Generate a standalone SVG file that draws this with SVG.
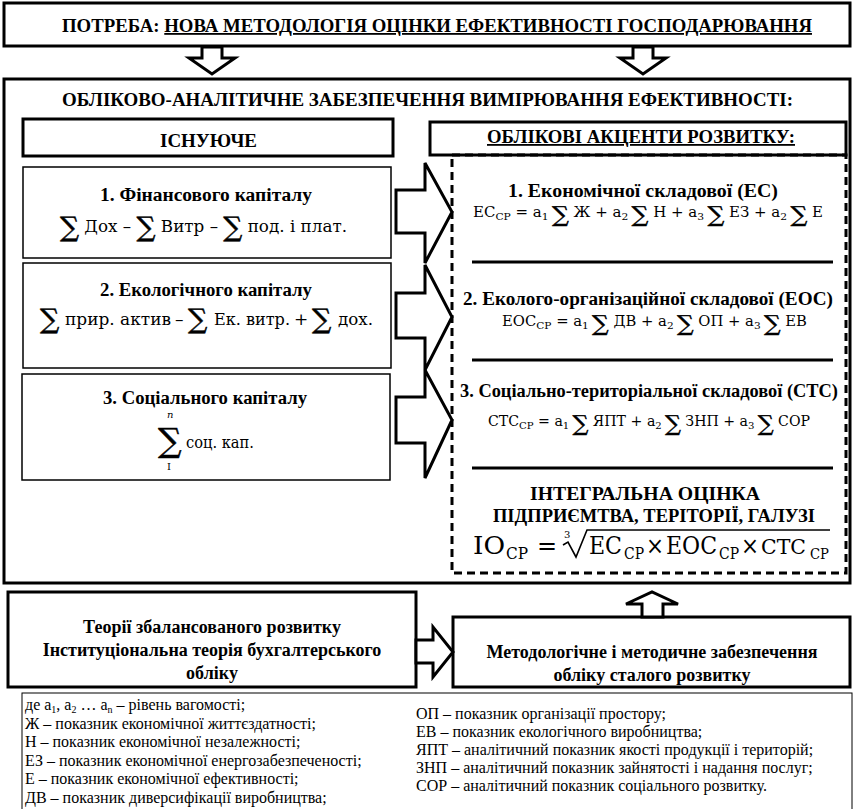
<svg xmlns="http://www.w3.org/2000/svg" width="854" height="809" viewBox="0 0 854 809">
<style>
.bx{fill:#fff;stroke:#000;stroke-width:3}
.bt{fill:#fff;stroke:#000;stroke-width:1.5}
.ds{fill:none;stroke:#000;stroke-width:3;stroke-dasharray:8 5}
.sep{stroke:#000;stroke-width:3}
.ar{fill:#fff;stroke:#000;stroke-width:3;stroke-linejoin:miter}
.h{font-family:"Liberation Serif","Times New Roman",serif;font-weight:bold;font-size:18px;fill:#000}
.c{text-anchor:middle}
.f{font-family:"DejaVu Serif",serif;font-size:17px;fill:#000}
.fr{font-family:"DejaVu Serif",serif;font-size:14px;fill:#000}
.fb{font-family:"DejaVu Serif",serif;font-size:24px;fill:#000}
.fs{font-family:"DejaVu Serif",serif;font-size:16px;fill:#000}
.sg{font-family:"DejaVu Serif","DejaVu Sans",serif;stroke:#000;stroke-width:0.5}
.sgl{font-family:"DejaVu Serif","DejaVu Sans",serif;font-size:27px;fill:#000;stroke:#000;stroke-width:0.5}
.sb{font-size:10px}
.l{font-family:"Liberation Serif","Times New Roman",serif;font-size:16px;fill:#000}
</style>
<rect width="854" height="809" fill="#fff"/>

<g id="need">
<rect class="bx" x="4" y="3" width="846" height="43"/>
<text class="h" x="62" y="32" textLength="750" lengthAdjust="spacingAndGlyphs">ПОТРЕБА: <tspan text-decoration="underline">НОВА МЕТОДОЛОГІЯ ОЦІНКИ ЕФЕКТИВНОСТІ ГОСПОДАРЮВАННЯ</tspan></text>
</g>

<g id="main">
<rect class="bx" x="4" y="79" width="846" height="504"/>
<text class="h" x="62" y="106" textLength="731" lengthAdjust="spacingAndGlyphs">ОБЛІКОВО-АНАЛІТИЧНЕ ЗАБЕЗПЕЧЕННЯ ВИМІРЮВАННЯ ЕФЕКТИВНОСТІ:</text>
</g>

<g id="existing">
<rect class="bx" x="23" y="119" width="370" height="37"/>
<text class="h" x="160" y="147" textLength="97" lengthAdjust="spacingAndGlyphs">ІСНУЮЧЕ</text>
</g>

<g id="fin">
<rect class="bt" x="23" y="167" width="368" height="91"/>
<text class="h" x="100" y="201" textLength="212" lengthAdjust="spacingAndGlyphs">1. Фінансового капіталу</text>
<text class="f" x="60" y="232" textLength="287" lengthAdjust="spacingAndGlyphs"><tspan class="sg" font-size="27" dy="4">∑</tspan><tspan dy="-4"> Дох – </tspan><tspan class="sg" font-size="27" dy="4">∑</tspan><tspan dy="-4"> Витр – </tspan><tspan class="sg" font-size="27" dy="4">∑</tspan><tspan dy="-4"> под. і плат.</tspan></text>
</g>

<g id="eco">
<rect class="bt" x="23" y="263" width="368" height="105"/>
<text class="h" x="100" y="296" textLength="212" lengthAdjust="spacingAndGlyphs">2. Екологічного капіталу</text>
<text class="sgl" x="40" y="328">∑</text>
<text class="f" x="65" y="325" textLength="106" lengthAdjust="spacingAndGlyphs">прир. актив</text>
<text class="f" x="175" y="325">–</text>
<text class="sgl" x="188" y="328">∑</text>
<text class="f" x="214" y="325" textLength="76" lengthAdjust="spacingAndGlyphs">Ек. витр.</text>
<text class="f" x="294" y="325">+</text>
<text class="sgl" x="312" y="328">∑</text>
<text class="f" x="338" y="325" textLength="35" lengthAdjust="spacingAndGlyphs">дох.</text>
</g>

<g id="soc">
<rect class="bt" x="22" y="374" width="368" height="106"/>
<text class="h" x="103" y="404" textLength="204" lengthAdjust="spacingAndGlyphs">3. Соціального капіталу</text>
<text class="f" x="167" y="418" style="font-size:10px;font-style:italic">n</text>
<text class="sg" x="158" y="452" style="font-size:33px">∑</text>
<text class="f" x="167" y="470" style="font-size:10px">I</text>
<text class="f" x="186" y="448" textLength="68" lengthAdjust="spacingAndGlyphs">соц. кап.</text>
</g>

<g id="accents">
<rect class="bx" x="430" y="122" width="416" height="33"/>
<text class="h" x="487" y="143" textLength="308" lengthAdjust="spacingAndGlyphs" text-decoration="underline">ОБЛІКОВІ АКЦЕНТИ РОЗВИТКУ:</text>
</g>

<g id="dev">
<rect class="ds" x="452" y="155" width="394" height="418"/>
<text class="h" x="508" y="197" textLength="270" lengthAdjust="spacingAndGlyphs">1. Економічної складової (ЕС)</text>
<text class="fr" x="473" y="217" textLength="350" lengthAdjust="spacingAndGlyphs">ЕС<tspan class="sb" dy="3">СР</tspan><tspan dy="-3"> = а</tspan><tspan class="sb" dy="3">1 </tspan><tspan class="sg" font-size="22" dy="2">∑</tspan><tspan dy="-5"> Ж + а</tspan><tspan class="sb" dy="3">2 </tspan><tspan class="sg" font-size="22" dy="2">∑</tspan><tspan dy="-5"> Н + а</tspan><tspan class="sb" dy="3">3 </tspan><tspan class="sg" font-size="22" dy="2">∑</tspan><tspan dy="-5"> ЕЗ + а</tspan><tspan class="sb" dy="3">2 </tspan><tspan class="sg" font-size="22" dy="2">∑</tspan><tspan dy="-5"> Е</tspan></text>
<line class="sep" x1="472" y1="262" x2="833" y2="262"/>
<text class="h" x="463" y="305" textLength="370" lengthAdjust="spacingAndGlyphs">2. Еколого-організаційної складової (ЕОС)</text>
<text class="fr" x="502" y="326" textLength="305" lengthAdjust="spacingAndGlyphs">ЕОС<tspan class="sb" dy="3">СР</tspan><tspan dy="-3"> = а</tspan><tspan class="sb" dy="3">1 </tspan><tspan class="sg" font-size="22" dy="2">∑</tspan><tspan dy="-5"> ДВ + а</tspan><tspan class="sb" dy="3">2 </tspan><tspan class="sg" font-size="22" dy="2">∑</tspan><tspan dy="-5"> ОП + а</tspan><tspan class="sb" dy="3">3 </tspan><tspan class="sg" font-size="22" dy="2">∑</tspan><tspan dy="-5"> ЕВ</tspan></text>
<line class="sep" x1="472" y1="360" x2="833" y2="360"/>
<text class="h" x="460" y="397" textLength="378" lengthAdjust="spacingAndGlyphs">3. Соціально-територіальної складової (СТС)</text>
<text class="fr" x="488" y="426" textLength="322" lengthAdjust="spacingAndGlyphs">СТС<tspan class="sb" dy="3">СР</tspan><tspan dy="-3"> = а</tspan><tspan class="sb" dy="3">1 </tspan><tspan class="sg" font-size="22" dy="2">∑</tspan><tspan dy="-5"> ЯПТ + а</tspan><tspan class="sb" dy="3">2 </tspan><tspan class="sg" font-size="22" dy="2">∑</tspan><tspan dy="-5"> ЗНП + а</tspan><tspan class="sb" dy="3">3 </tspan><tspan class="sg" font-size="22" dy="2">∑</tspan><tspan dy="-5"> СОР</tspan></text>
<line class="sep" x1="472" y1="468" x2="833" y2="468"/>
<text class="h" x="530" y="500" textLength="230" lengthAdjust="spacingAndGlyphs">ІНТЕГРАЛЬНА ОЦІНКА</text>
<text class="h" x="493" y="522" textLength="322" lengthAdjust="spacingAndGlyphs">ПІДПРИЄМТВА, ТЕРІТОРІЇ, ГАЛУЗІ</text>
<text class="fb" x="473" y="554" textLength="32" lengthAdjust="spacingAndGlyphs">ІО</text>
<text class="fs" x="506" y="559" textLength="22" lengthAdjust="spacingAndGlyphs">СР</text>
<text class="fb" x="537" y="554">=</text>
<text class="f" x="564" y="538" style="font-size:10px">3</text>
<polyline points="563,545 568,542 576,557 587,530 830,530" fill="none" stroke="#000" stroke-width="1.6"/>
<text class="fb" x="589" y="554" textLength="33" lengthAdjust="spacingAndGlyphs">ЕС</text>
<text class="fs" x="624" y="559" textLength="20" lengthAdjust="spacingAndGlyphs">СР</text>
<text class="fb" x="646" y="554" textLength="18" lengthAdjust="spacingAndGlyphs">×</text>
<text class="fb" x="666" y="554" textLength="51" lengthAdjust="spacingAndGlyphs">ЕОС</text>
<text class="fs" x="719" y="559" textLength="20" lengthAdjust="spacingAndGlyphs">СР</text>
<text class="fb" x="741" y="554" textLength="18" lengthAdjust="spacingAndGlyphs">×</text>
<text class="fb" x="761" y="554" textLength="45" lengthAdjust="spacingAndGlyphs" style="font-size:21px">СТС</text>
<text class="fs" x="810" y="559" textLength="19" lengthAdjust="spacingAndGlyphs" style="font-size:14px">СР</text>
</g>

<g id="theory">
<rect class="bx" x="8" y="592" width="408" height="95"/>
<text class="h c" x="212" y="633">Теорії збалансованого розвитку</text>
<text class="h c" x="212" y="656">Інституціональна теорія бухгалтерського</text>
<text class="h c" x="212" y="679">обліку</text>
</g>

<g id="method">
<rect class="bx" x="453" y="617" width="397" height="70"/>
<text class="h c" x="652" y="658">Методологічне і методичне забезпечення</text>
<text class="h c" x="652" y="681">обліку сталого розвитку</text>
</g>

<g id="legend">
<rect x="22" y="693" width="830" height="130" fill="none" stroke="#000" stroke-width="1"/>
<text class="l" x="25" y="710">де а<tspan font-size="10" dy="3">1</tspan><tspan dy="-3">, а</tspan><tspan font-size="10" dy="3">2</tspan><tspan dy="-3"> … а</tspan><tspan font-size="10" dy="3">n</tspan><tspan dy="-3"> – рівень вагомості;</tspan></text>
<text class="l" x="25" y="728.5">Ж – показник економічної життєздатності;</text>
<text class="l" x="25" y="747">Н – показник економічної незалежності;</text>
<text class="l" x="25" y="765.5">ЕЗ – показник економічної енергозабезпеченості;</text>
<text class="l" x="25" y="784">Е – показник економічної ефективності;</text>
<text class="l" x="25" y="802.5">ДВ – показник диверсифікації виробництва;</text>
<text class="l" x="416" y="718.5">ОП – показник організації простору;</text>
<text class="l" x="416" y="736.5">ЕВ – показник екологічного виробництва;</text>
<text class="l" x="416" y="754.5">ЯПТ – аналітичний показник якості продукції і територій;</text>
<text class="l" x="416" y="772.5">ЗНП – аналітичний показник зайнятості і надання послуг;</text>
<text class="l" x="416" y="790.5">СОР – аналітичний показник соціального розвитку.</text>
</g>

<g id="connectors">
<polygon class="ar" points="202,47 222,47 222,58 235,58 212,74 189,58 202,58"/>
<polygon class="ar" points="633,47 653,47 653,58 666,58 643,74 620,58 633,58"/>
<polygon class="ar" points="396,190 425,190 425,163 452,212 425,263 425,233 396,233"/>
<polygon class="ar" points="396,293 425,293 425,265 452,317 425,370 425,338 396,338"/>
<polygon class="ar" points="396,397 425,397 425,370 452,420 425,478 425,443 396,443"/>
<polygon class="ar" points="416,640 433,640 433,627 453,652 433,677 433,663 416,663"/>
<polygon class="ar" points="642,617 642,604 626,604 652,592 678,604 663,604 663,617"/>
</g>
</svg>
